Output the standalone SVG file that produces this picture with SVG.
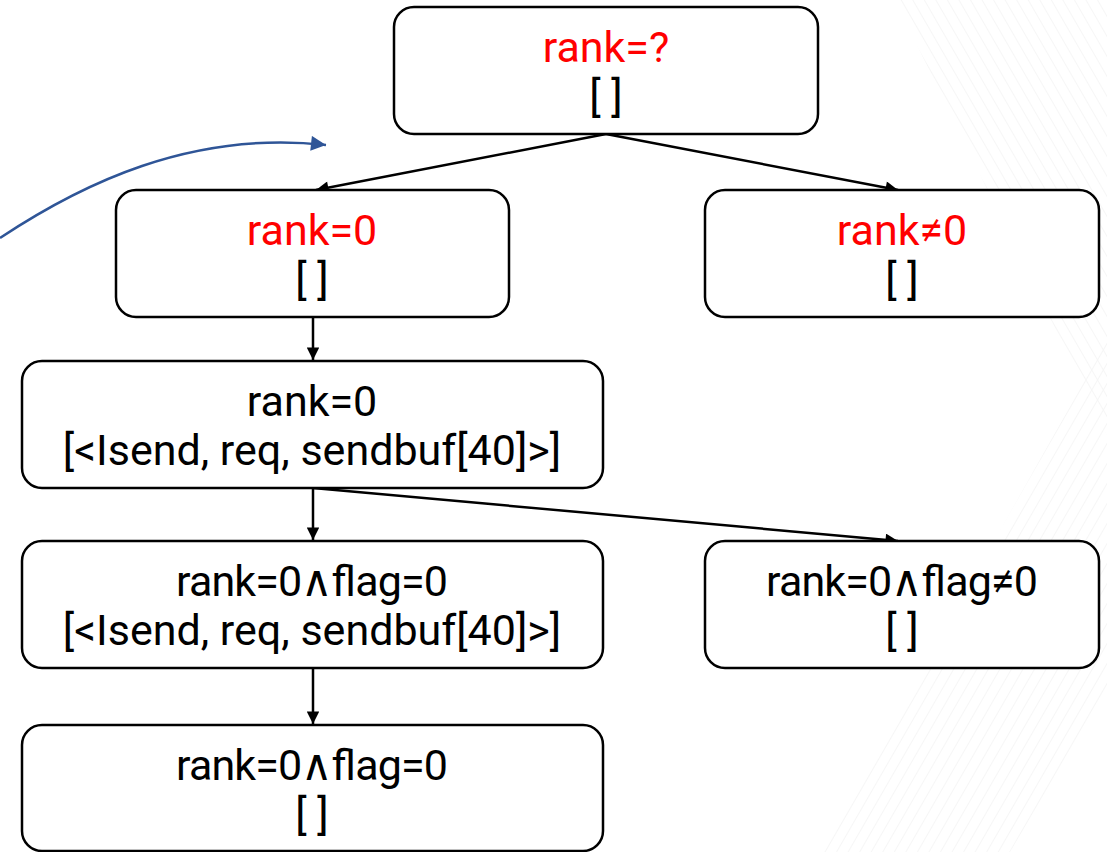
<svg xmlns="http://www.w3.org/2000/svg" width="1107" height="852" viewBox="0 0 1107 852">
  <style>
    .box { fill: #ffffff; stroke: #000000; stroke-width: 2.5; }
    .lbl { font-family: Roboto, "Liberation Sans", sans-serif; font-size: 43px; text-anchor: middle; fill: #000000; }
    .cond { fill: #ff0000; }
    .edge { fill: none; stroke: #000000; stroke-width: 2.5; }
    .hatch { stroke: #f5f5f5; stroke-width: 1.8; }
  </style>
  <defs>
    <marker id="arrow" viewBox="0 0 10 10" refX="10" refY="5" markerWidth="6" markerHeight="5" markerUnits="strokeWidth" orient="auto">
      <path d="M0,0 L10,5 L0,10 Z" fill="#000000"/>
    </marker>
    <marker id="arrowBlue" viewBox="0 0 10 10" refX="10" refY="5" markerWidth="7" markerHeight="6" markerUnits="strokeWidth" orient="auto">
      <path d="M0,0 L10,5 L0,10 Z" fill="#2F5597"/>
    </marker>
    <pattern id="hatchDown" width="10" height="10" patternUnits="userSpaceOnUse" patternTransform="rotate(-30)">
      <line x1="0" y1="0" x2="0" y2="10" class="hatch"/>
    </pattern>
    <pattern id="hatchUp" width="10" height="10" patternUnits="userSpaceOnUse" patternTransform="rotate(30)">
      <line x1="0" y1="0" x2="0" y2="10" class="hatch"/>
    </pattern>
  </defs>

  <rect width="1107" height="852" fill="#ffffff"/>

  <!-- faint background hatching -->
  <g id="background">
    <polygon points="895,0 1107,0 1107,435" fill="url(#hatchDown)"/>
    <polygon points="1107,340 1107,690 1010,852 820,852" fill="url(#hatchUp)"/>
  </g>

  <!-- connectors -->
  <g id="connectors">
    <path class="edge" d="M606,134 L316,190" marker-end="url(#arrow)"/>
    <path class="edge" d="M606,134 L898,190" marker-end="url(#arrow)"/>
    <path class="edge" d="M313,317 L313,360" marker-end="url(#arrow)"/>
    <path class="edge" d="M313,488 L313,540" marker-end="url(#arrow)"/>
    <path class="edge" d="M313,488 L898,541" marker-end="url(#arrow)"/>
    <path class="edge" d="M313,668 L313,724" marker-end="url(#arrow)"/>
    <path d="M0,238 C80,185 190,130 326,145" fill="none" stroke="#2F5597" stroke-width="2.5" marker-end="url(#arrowBlue)"/>
  </g>

  <g id="n-root">
    <rect class="box" x="394" y="7" width="424" height="127" rx="20"/>
    <text class="lbl cond" x="606" y="62">rank=?</text>
    <text class="lbl" x="606" y="111">[ ]</text>
  </g>

  <g id="n-rank0">
    <rect class="box" x="116" y="190" width="393" height="127" rx="20"/>
    <text class="lbl cond" x="312" y="245">rank=0</text>
    <text class="lbl" x="312" y="294">[ ]</text>
  </g>

  <g id="n-ranknot0">
    <rect class="box" x="705" y="190" width="394" height="127" rx="20"/>
    <text class="lbl cond" x="902" y="245">rank≠0</text>
    <text class="lbl" x="902" y="294">[ ]</text>
  </g>

  <g id="n-isend">
    <rect class="box" x="22" y="361" width="581" height="127" rx="20"/>
    <text class="lbl" x="312" y="416">rank=0</text>
    <text class="lbl" x="312" y="465">[&lt;Isend, req, sendbuf[40]&gt;]</text>
  </g>

  <g id="n-flag0">
    <rect class="box" x="22" y="541" width="581" height="127" rx="20"/>
    <text class="lbl" x="312" y="596" textLength="272" lengthAdjust="spacing">rank=0∧flag=0</text>
    <text class="lbl" x="312" y="645">[&lt;Isend, req, sendbuf[40]&gt;]</text>
  </g>

  <g id="n-flagnot0">
    <rect class="box" x="705" y="541" width="394" height="127" rx="20"/>
    <text class="lbl" x="902" y="596" textLength="272" lengthAdjust="spacing">rank=0∧flag≠0</text>
    <text class="lbl" x="902" y="645">[ ]</text>
  </g>

  <g id="n-done">
    <rect class="box" x="22" y="725" width="581" height="126" rx="20"/>
    <text class="lbl" x="312" y="780" textLength="272" lengthAdjust="spacing">rank=0∧flag=0</text>
    <text class="lbl" x="312" y="829">[ ]</text>
  </g>
</svg>
